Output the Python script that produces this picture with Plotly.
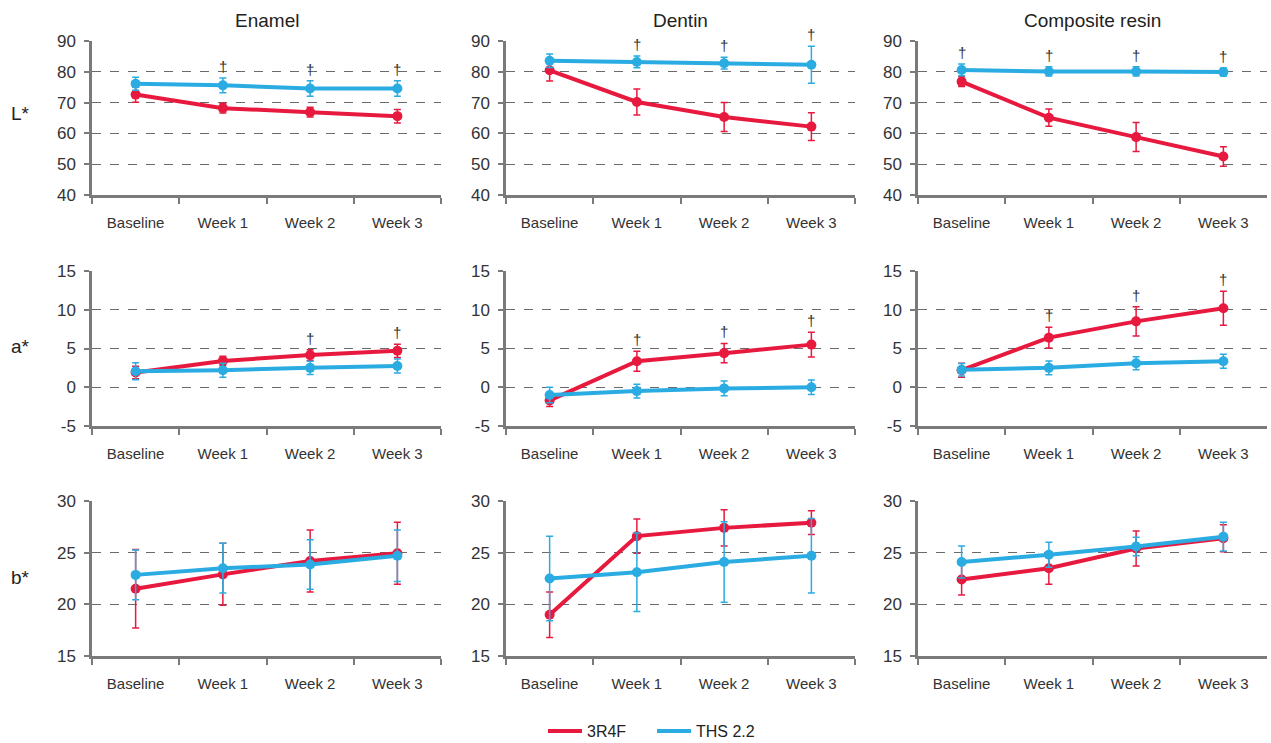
import plotly.graph_objects as go

W, H = 1271, 743

categories = ["Baseline", "Week 1", "Week 2", "Week 3"]
materials = ["Enamel", "Dentin", "Composite resin"]
params = ["L*", "a*", "b*"]

# mean values [param][material]
red_L = [[72.6, 68.2, 66.9, 65.6], [80.5, 70.2, 65.3, 62.2], [76.8, 65.1, 58.8, 52.5]]
red_L_err = [[2.5, 1.6, 1.6, 2.2], [3.5, 4.2, 4.7, 4.5], [1.6, 2.8, 4.7, 3.2]]
blue_L = [[76.1, 75.6, 74.6, 74.6], [83.6, 83.2, 82.8, 82.3], [80.6, 80.1, 80.1, 79.9]]
blue_L_err = [[2.1, 2.4, 2.5, 2.5], [2.2, 1.9, 1.9, 6.0], [1.9, 1.5, 1.5, 1.3]]

red_a = [[1.9, 3.4, 4.15, 4.7], [-1.7, 3.35, 4.4, 5.5], [2.2, 6.4, 8.5, 10.2]]
red_a_err = [[0.8, 0.6, 0.7, 0.85], [0.8, 1.3, 1.25, 1.6], [0.9, 1.35, 1.9, 2.2]]
blue_a = [[2.06, 2.2, 2.5, 2.75], [-1.0, -0.5, -0.15, 0.0], [2.25, 2.5, 3.1, 3.35]]
blue_a_err = [[1.1, 0.9, 0.85, 0.9], [1.0, 0.9, 0.95, 0.95], [0.8, 0.9, 0.85, 0.9]]

red_b = [[21.5, 22.9, 24.2, 24.95], [19.0, 26.6, 27.4, 27.9], [22.4, 23.5, 25.4, 26.4]]
red_b_err = [[3.8, 3.0, 3.0, 3.0], [2.2, 1.65, 1.75, 1.15], [1.5, 1.55, 1.7, 1.3]]
blue_b = [[22.85, 23.5, 23.85, 24.7], [22.5, 23.1, 24.1, 24.7], [24.1, 24.8, 25.6, 26.55]]
blue_b_err = [[2.4, 2.4, 2.4, 2.5], [4.1, 3.8, 3.9, 3.6], [1.55, 1.2, 0.9, 1.4]]

# dagger flags (significant difference) [param][material]
dagger_L = [[0, 1, 1, 1], [0, 1, 1, 1], [1, 1, 1, 1]]
dagger_a = [[0, 0, 1, 1], [0, 1, 1, 1], [0, 1, 1, 1]]
dagger_b = [[0, 0, 0, 0], [0, 0, 0, 0], [0, 0, 0, 0]]

y_ranges = [[40, 90], [-5, 15], [15, 30]]
y_tickvals = [[40, 50, 60, 70, 80, 90], [-5, 0, 5, 10, 15], [15, 20, 25, 30]]
y_ticktext = [["40", "50", "60", "70", "80", "90"], ["-5", "0", "5", "10", "15"],
              ["15", "20", "25", "30"]]

series_names = ["3R4F", "THS 2.2"]
RED = "#E8193E"
BLUE = "#2AACE2"

red_vals = [red_L, red_a, red_b]
red_errs = [red_L_err, red_a_err, red_b_err]
blue_vals = [blue_L, blue_a, blue_b]
blue_errs = [blue_L_err, blue_a_err, blue_b_err]
daggers = [dagger_L, dagger_a, dagger_b]

FONT = "Liberation Sans, Arial, sans-serif"
AXC = "#7a7a7a"

col_px = [(92, 441), (506, 855), (918, 1267)]
row_px = [(41, 195), (271, 426), (501, 656)]

fig = go.Figure()
layout = {}
annotations = []

for r in range(3):
    for c in range(3):
        idx = r * 3 + c + 1
        xa = "x" if idx == 1 else f"x{idx}"
        ya = "y" if idx == 1 else f"y{idx}"
        xkey = "xaxis" if idx == 1 else f"xaxis{idx}"
        ykey = "yaxis" if idx == 1 else f"yaxis{idx}"
        x0, x1 = col_px[c]
        t0, t1 = row_px[r]
        layout[xkey] = dict(
            domain=[x0 / W, x1 / W], anchor=ya, type="category",
            categoryorder="array", categoryarray=categories,
            range=[-0.5, 3.5], showline=True, linecolor=AXC, linewidth=2.5,
            ticks="outside", tickson="boundaries", ticklen=6, tickwidth=2, tickcolor=AXC,
            ticklabelstandoff=12,
            showgrid=False, zeroline=False, automargin=False,
            tickfont=dict(family=FONT, size=15, color="#333"),
        )
        layout[ykey] = dict(
            domain=[1 - t1 / H, 1 - t0 / H], anchor=xa,
            range=y_ranges[r], tickmode="array",
            tickvals=y_tickvals[r], ticktext=y_ticktext[r],
            showline=True, linecolor=AXC, linewidth=2.5,
            ticks="outside", ticklen=5, tickwidth=2, tickcolor=AXC,
            ticklabelstandoff=5,
            showgrid=True, gridcolor="#6a6a6a", griddash="dash", gridwidth=1.2,
            zeroline=False, automargin=False,
            tickfont=dict(family=FONT, size=17, color="#333"),
        )
        for vals, errs, col, name in [
            (red_vals[r][c], red_errs[r][c], RED, series_names[0]),
            (blue_vals[r][c], blue_errs[r][c], BLUE, series_names[1]),
        ]:
            fig.add_trace(go.Scatter(
                x=categories, y=vals, xaxis=xa, yaxis=ya, name=name,
                mode="lines+markers", showlegend=False,
                line=dict(color=col, width=4),
                marker=dict(color=col, size=10),
                error_y=dict(type="data", array=errs, visible=True,
                             color=col, thickness=1.5, width=3.5),
                cliponaxis=False,
            ))
        for i, flag in enumerate(daggers[r][c]):
            if flag:
                top = max(red_vals[r][c][i] + red_errs[r][c][i],
                          blue_vals[r][c][i] + blue_errs[r][c][i])
                annotations.append(dict(
                    x=categories[i], y=top, xref=xa, yref=ya, text="†",
                    showarrow=False, yanchor="bottom", yshift=1,
                    font=dict(family=FONT, size=15, color="#333"),
                ))

# column titles
for c, m in enumerate(materials):
    x0, x1 = col_px[c]
    annotations.append(dict(
        x=(x0 + x1) / 2 / W, y=1 - 20 / H, xref="paper", yref="paper", text=m,
        showarrow=False, font=dict(family=FONT, size=19, color="#222"),
        xanchor="center", yanchor="middle",
    ))
# row labels
for r, p in enumerate(params):
    ymid = [113, 347, 577][r]
    annotations.append(dict(
        x=20 / W, y=1 - ymid / H, xref="paper", yref="paper", text=p,
        showarrow=False, font=dict(family=FONT, size=19, color="#222"),
        xanchor="center", yanchor="middle",
    ))

# legend entries (line-only)
for name, col in zip(series_names, [RED, BLUE]):
    fig.add_trace(go.Scatter(x=[None], y=[None], mode="lines", name=name,
                             line=dict(color=col, width=4), showlegend=True))

fig.update_layout(
    width=W, height=H, margin=dict(l=0, r=0, t=0, b=0, autoexpand=False),
    paper_bgcolor="white", plot_bgcolor="white",
    annotations=annotations,
    legend=dict(orientation="h", x=652 / W, xanchor="center",
                yref="container", y=1 - 731 / H, yanchor="middle",
                font=dict(family=FONT, size=16, color="#222"),
                itemwidth=34, entrywidth=60, entrywidthmode="pixels",
                tracegroupgap=0),
    **layout,
)

fig.write_html("out.html", config={"displayModeBar": False},
               post_script="document.body.style.margin='0px';document.body.style.overflow='hidden';")
